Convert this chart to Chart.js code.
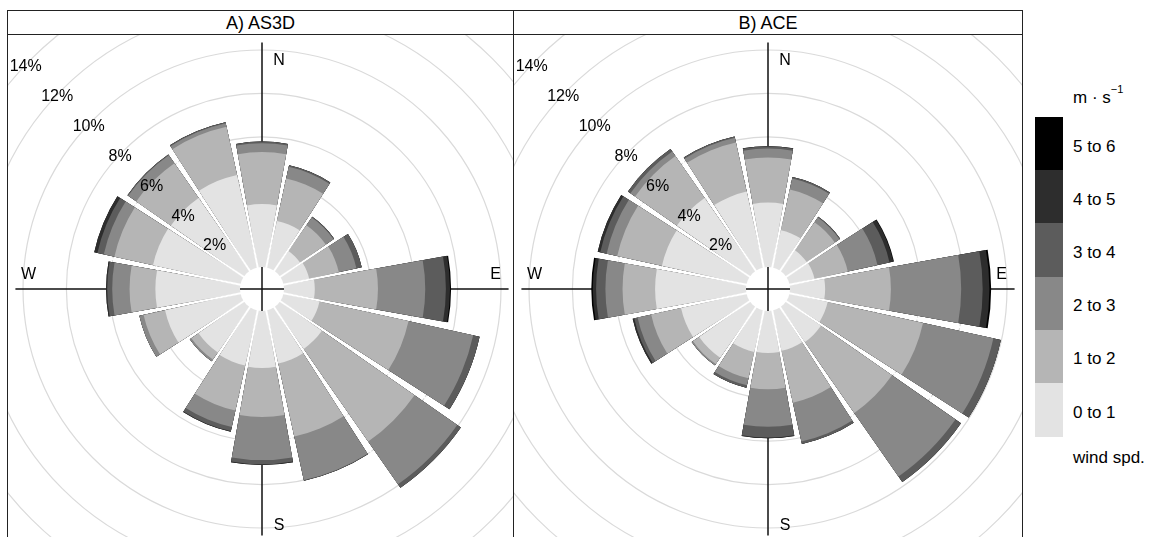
<!DOCTYPE html>
<html>
<head>
<meta charset="utf-8">
<script src="https://cdn.jsdelivr.net/npm/chart.js@4.4.1/dist/chart.umd.min.js"></script>
<style>
  body { margin: 0; width: 1161px; height: 537px; background: #fff; overflow: hidden; position: relative;
         font-family: "Liberation Sans", Arial, sans-serif; color: #000; }
  .panel { position: absolute; top: 10px; height: 600px; border: 1px solid #222; box-sizing: border-box; }
  .strip { position: absolute; left: 0; right: 0; top: 0; height: 23px; border-bottom: 1px solid #222;
           text-align: center; font-size: 18px; line-height: 24px; }
  .plot { position: absolute; left: 0; right: 0; top: 24px; bottom: 0; overflow: hidden; }
  .plot canvas { position: absolute; left: -146px; top: -146px; }
  #legend { position: absolute; left: 1035px; top: 86px; font-size: 17px; }
  .lg-title { position: absolute; left: 38px; top: 0; white-space: nowrap; }
  .lg-title sup { font-size: 11px; position: relative; top: -3px; }
  .lg-box { position: absolute; left: 0; width: 28px; }
  .lg-lab { position: absolute; left: 38px; white-space: nowrap; }
</style>
</head>
<body>
<div class="panel" style="left:7px;width:507px">
  <div class="strip">A) AS3D</div>
  <div class="plot"><canvas id="roseA" width="800" height="800"></canvas></div>
</div>
<div class="panel" style="left:513px;width:510px">
  <div class="strip">B) ACE</div>
  <div class="plot"><canvas id="roseB" width="800" height="800"></canvas></div>
</div>
<div id="legend"></div>

<script>
// 16 wind directions, clockwise from north
const directions = ["N", "NNE", "NE", "ENE", "E", "ESE", "SE", "SSE",
                    "S", "SSW", "SW", "WSW", "W", "WNW", "NW", "NNW"];
const speedBins = ["0 to 1", "1 to 2", "2 to 3", "3 to 4", "4 to 5", "5 to 6"];
const binColors = ["#e3e3e3", "#b5b5b5", "#888888", "#5c5c5c", "#2d2d2d", "#000000"];
const pctTicks = [2, 4, 6, 8, 10, 12, 14];
const compass = ["N", "E", "S", "W"];

// A) AS3D - frequency (%) per speed bin
const as3d_0to1 = [2.9, 2.2, 1.12, 1.21, 1.42, 1.7, 2.35, 2.5, 2.63, 2.6, 2.55, 3.56, 3.9, 4.13, 4.1, 4.37];
const as3d_1to2 = [2.4, 2.0, 1.45, 1.4, 2.91, 4.2, 5.2, 3.45, 2.26, 2.12, 0.4, 1.01, 1.19, 1.82, 1.95, 2.27];
const as3d_2to3 = [0.4, 0.55, 0.43, 0.83, 2.18, 3.05, 2.4, 2.05, 1.98, 0.78, 0.09, 0.2, 0.8, 0.5, 0.45, 0.16];
const as3d_3to4 = [0.08, 0.07, 0.04, 0.25, 0.95, 0.3, 0.2, 0.03, 0.19, 0.19, 0, 0, 0.23, 0.3, 0.04, 0.05];
const as3d_4to5 = [0, 0, 0, 0, 0.19, 0, 0, 0, 0.04, 0.03, 0, 0, 0.05, 0.15, 0, 0];
const as3d_5to6 = [0, 0, 0, 0, 0.05, 0, 0, 0, 0, 0, 0, 0, 0, 0, 0, 0];

// B) ACE - frequency (%) per speed bin
const ace_0to1 = [2.97, 1.76, 1.16, 1.18, 1.62, 1.8, 1.96, 1.9, 1.93, 1.96, 2.85, 3.09, 4.19, 3.99, 4.1, 3.58];
const ace_1to2 = [2.08, 1.92, 1.58, 1.57, 3.03, 4.5, 3.99, 2.45, 1.68, 1.24, 0.35, 1.41, 1.5, 2.11, 2.35, 2.32];
const ace_2to3 = [0.41, 0.52, 0.26, 1.4, 3.24, 3.32, 3.56, 1.83, 1.73, 0.33, 0.07, 0.64, 0.79, 0.5, 0.26, 0.22];
const ace_3to4 = [0.09, 0.07, 0.04, 0.57, 0.99, 0.35, 0.31, 0.12, 0.49, 0.11, 0, 0.16, 0.43, 0.3, 0.14, 0.06];
const ace_4to5 = [0.02, 0, 0, 0.18, 0.31, 0, 0, 0, 0.04, 0, 0, 0.07, 0.15, 0.12, 0, 0];
const ace_5to6 = [0, 0, 0, 0.03, 0.08, 0, 0, 0, 0, 0, 0, 0, 0.07, 0, 0, 0];

const FONT = '"Liberation Sans", Arial, sans-serif';
const gapDeg = 2.2;        // angular gap between neighbouring bars
const axisReach = 10.35;   // compass axis length, in %

// stacked wedges: dataset k holds the cumulative total up to bin k
function stackedDatasets(bins) {
  const cum = new Array(directions.length).fill(0);
  return bins.map((vals, k) => {
    const data = vals.map((v, j) => (cum[j] += v));
    return { label: speedBins[k], data: data.slice(), backgroundColor: binColors[k], borderWidth: 0 };
  });
}

const roseDecor = {
  id: "roseDecor",
  afterDatasetsUpdate(chart) {
    const g = (gapDeg * Math.PI) / 360;
    chart.data.datasets.forEach((ds, i) => {
      chart.getDatasetMeta(i).data.forEach((arc) => {
        arc.startAngle += g;
        arc.endAngle -= g;
      });
    });
  },
  beforeDatasetsDraw(chart) {
    const s = chart.scales.r;
    const ctx = chart.ctx;
    const r = s.getDistanceFromCenterForValue(axisReach);
    ctx.save();
    ctx.strokeStyle = "#111";
    ctx.lineWidth = 1.5;
    ctx.beginPath();
    ctx.moveTo(s.xCenter, s.yCenter - r);
    ctx.lineTo(s.xCenter, s.yCenter + r);
    ctx.moveTo(s.xCenter - r, s.yCenter);
    ctx.lineTo(s.xCenter + r, s.yCenter);
    ctx.stroke();
    ctx.restore();
  },
  afterDatasetsDraw(chart) {
    const s = chart.scales.r;
    const ctx = chart.ctx;
    const xc = s.xCenter, yc = s.yCenter;
    const g = (gapDeg * Math.PI) / 360;
    const outer = chart.getDatasetMeta(chart.data.datasets.length - 1).data;

    // white separators between bars
    ctx.save();
    ctx.strokeStyle = "#fff";
    ctx.lineWidth = 2;
    outer.forEach((arc, j) => {
      const next = outer[(j + 1) % outer.length];
      const r = Math.min(arc.outerRadius, next.outerRadius);
      const a = arc.endAngle + g;
      ctx.beginPath();
      ctx.moveTo(xc, yc);
      ctx.lineTo(xc + Math.cos(a) * r, yc + Math.sin(a) * r);
      ctx.stroke();
    });
    ctx.restore();

    // hole in the middle with its cross
    const h = s.getDistanceFromCenterForValue(0);
    ctx.save();
    ctx.fillStyle = "#fff";
    ctx.beginPath();
    ctx.arc(xc, yc, h, 0, Math.PI * 2);
    ctx.fill();
    ctx.strokeStyle = "#111";
    ctx.lineWidth = 1.5;
    ctx.beginPath();
    ctx.moveTo(xc - h, yc);
    ctx.lineTo(xc + h, yc);
    ctx.moveTo(xc, yc - h);
    ctx.lineTo(xc, yc + h);
    ctx.stroke();

    // percent labels along the north-west diagonal
    ctx.fillStyle = "#000";
    ctx.font = "16px " + FONT;
    ctx.textAlign = "center";
    ctx.textBaseline = "middle";
    const ang = (43.5 * Math.PI) / 180;
    pctTicks.forEach((p) => {
      const r = s.getDistanceFromCenterForValue(p);
      ctx.fillText(p + "%", xc - Math.cos(ang) * r, yc - Math.sin(ang) * r + 2);
    });

    // compass letters
    const rl = s.getDistanceFromCenterForValue(9.75);
    ctx.fillText(compass[0], xc + 17, yc - rl + 5);
    ctx.fillText(compass[1], xc + rl, yc - 14);
    ctx.fillText(compass[2], xc + 17, yc + rl + 3);
    ctx.fillText(compass[3], xc - rl, yc - 14);
    ctx.restore();
  },
};

function makeRose(id, bins) {
  return new Chart(document.getElementById(id), {
    type: "polarArea",
    data: { labels: directions, datasets: stackedDatasets(bins) },
    options: {
      responsive: false,
      animation: false,
      events: [],
      layout: { padding: 0 },
      plugins: { legend: { display: false }, tooltip: { enabled: false } },
      scales: {
        r: {
          startAngle: -11.25,
          min: -1.0138,
          max: 17.42,
          ticks: { display: false },
          afterBuildTicks: (scale) => {
            scale.ticks = [scale.min].concat(pctTicks).map((v) => ({ value: v }));
          },
          grid: { circular: true, color: "#dadada", lineWidth: 1.2 },
          angleLines: { display: false },
          pointLabels: { display: false },
        },
      },
    },
    plugins: [roseDecor],
  });
}

makeRose("roseA", [as3d_0to1, as3d_1to2, as3d_2to3, as3d_3to4, as3d_4to5, as3d_5to6]);
makeRose("roseB", [ace_0to1, ace_1to2, ace_2to3, ace_3to4, ace_4to5, ace_5to6]);

// vertical colour key
const legend = document.getElementById("legend");
const boxH = 53.2;
legend.innerHTML = '<div class="lg-title">m \u00b7 s<sup>\u22121</sup></div>';
speedBins.slice().reverse().forEach((lab, i) => {
  const k = speedBins.length - 1 - i;
  const top = 31 + i * boxH;
  legend.innerHTML +=
    `<div class="lg-box" style="top:${top}px;height:${boxH + 0.5}px;background:${binColors[k]}"></div>` +
    `<div class="lg-lab" style="top:${top + boxH / 2 - 7}px">${lab}</div>`;
});
legend.innerHTML += `<div class="lg-lab" style="top:${31 + 6 * boxH + 12}px">wind spd.</div>`;
</script>
</body>
</html>
